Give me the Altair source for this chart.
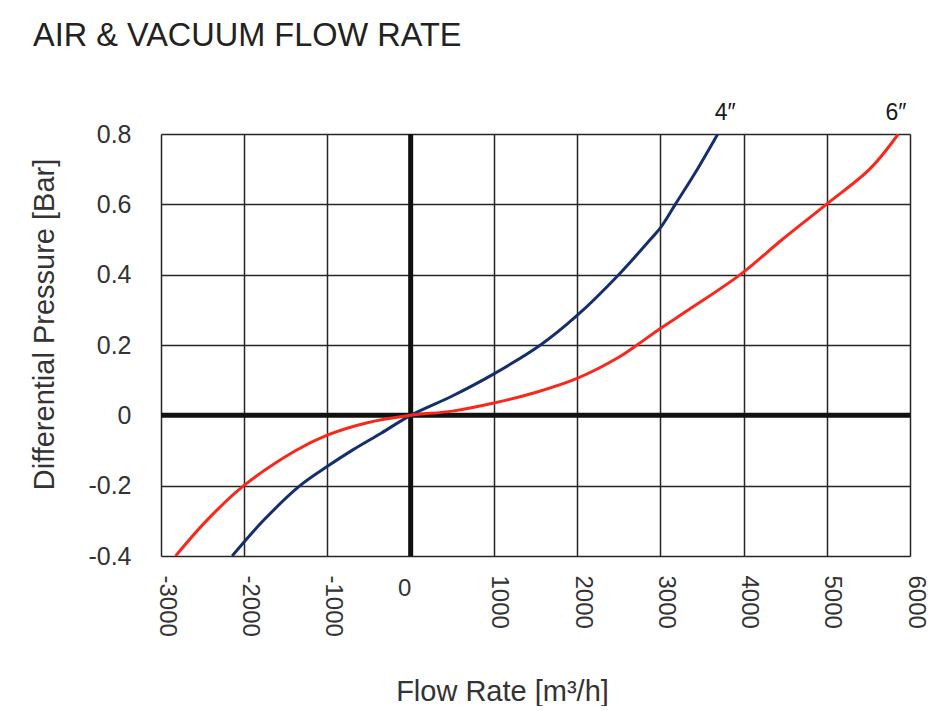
import altair as alt
import pandas as pd

# ---- data ----
blue_flow = [-2145, -1773, -1330, -1000, -700, -350, 0, 500, 1000, 1560, 2000, 2500, 2880, 3000, 3180, 3445, 3690]
blue_dp = [-0.4, -0.3, -0.2, -0.145, -0.099, -0.05, 0, 0.055, 0.118, 0.2, 0.284, 0.4, 0.5, 0.533, 0.6, 0.7, 0.8]

red_flow = [-2825, -2455, -2005, -1380, -1010, -520, 0, 500, 1000, 1500, 2000, 2500, 2720, 3000, 3340, 3960, 4465, 4995, 5515, 5860]
red_dp = [-0.4, -0.3, -0.2, -0.1, -0.057, -0.021, 0, 0.012, 0.035, 0.065, 0.105, 0.165, 0.2, 0.247, 0.3, 0.4, 0.5, 0.6, 0.7, 0.8]

series_names = ["4\u2033", "6\u2033"]
series_colors = ["#142f6b", "#f8281c"]

label_flow = [3780, 5830]
label_dp = [0.8, 0.8]

x_ticks = [-3000, -2000, -1000, 0, 1000, 2000, 3000, 4000, 5000, 6000]
y_ticks = [-0.4, -0.3, -0.2, -0.1, 0.0, 0.1, 0.2, 0.3, 0.4, 0.5, 0.6, 0.7, 0.8]
upright_tick = [0]

FONT = "Liberation Sans"

df = pd.concat([
    pd.DataFrame({"flow": blue_flow, "dp": blue_dp, "size": series_names[0], "order": range(len(blue_flow))}),
    pd.DataFrame({"flow": red_flow, "dp": red_dp, "size": series_names[1], "order": range(len(red_flow))}),
])
labels = pd.DataFrame({"flow": label_flow, "dp": label_dp, "size": series_names})
zero = pd.DataFrame({"v": [0]})
zero_label = pd.DataFrame({"flow": upright_tick, "dp": [-0.4], "txt": [str(v) for v in upright_tick]})

xscale = alt.Scale(domain=[-3000, 6000], nice=False, zero=False)
yscale = alt.Scale(domain=[-0.4, 0.8], nice=False, zero=False)

xaxis = alt.Axis(
    values=x_ticks, grid=True, gridColor="#262626", gridWidth=1.5, gridOpacity=1,
    domain=False, ticks=False, labelAngle=90, labelPadding=19, labelOffset=5,
    labelFont=FONT, labelFontSize=24, labelColor="#333333",
    labelExpr="datum.value == 0 ? '' : '' + datum.value",
    title="Flow Rate [m\u00b3/h]", titleFont=FONT, titleFontSize=29, titleFontWeight="normal",
    titleColor="#333333", titleX=341, titleY=144, titleBaseline="alphabetic", titleAnchor="middle",
)
yaxis = alt.Axis(
    values=y_ticks, grid=True, gridColor="#262626", gridWidth=1.5, gridOpacity=1,
    domain=False, ticks=False, labelPadding=30,
    labelFont=FONT, labelFontSize=25, labelColor="#333333",
    labelExpr="round(datum.value * 10) % 2 == 0 ? '' + datum.value : ''",
    title="Differential Pressure [Bar]", titleFont=FONT, titleFontSize=29, titleFontWeight="normal",
    titleColor="#333333", titleX=-117, titleY=190, titleAngle=-90, titleBaseline="middle", titleAnchor="middle",
)

base = alt.Chart(df)

lines = base.mark_line(strokeWidth=3, interpolate="catmull-rom", clip=True).encode(
    x=alt.X("flow:Q", scale=xscale, axis=xaxis),
    y=alt.Y("dp:Q", scale=yscale, axis=yaxis),
    color=alt.Color("size:N", scale=alt.Scale(domain=series_names, range=series_colors), legend=None),
    order="order:Q",
)

vzero = alt.Chart(zero).mark_rule(color="#111111", strokeWidth=5).encode(x=alt.X("v:Q", scale=xscale))
hzero = alt.Chart(zero).mark_rule(color="#111111", strokeWidth=5).encode(y=alt.Y("v:Q", scale=yscale))

text = alt.Chart(labels).mark_text(
    font=FONT, fontSize=23, color="#1a1a1a", align="center", baseline="alphabetic", dy=-14
).encode(
    x=alt.X("flow:Q", scale=xscale),
    y=alt.Y("dp:Q", scale=yscale),
    text="size:N",
)

zero_text = alt.Chart(zero_label).mark_text(
    font=FONT, fontSize=24, color="#333333", align="center", baseline="top", dx=-6, dy=21
).encode(
    x=alt.X("flow:Q", scale=xscale),
    y=alt.Y("dp:Q", scale=yscale),
    text="txt:N",
)

chart = alt.layer(vzero, hzero, lines, text, zero_text).properties(
    width=749,
    height=422,
    autosize=alt.AutoSizeParams(type="none"),
    padding={"left": 153, "top": 126, "right": 20, "bottom": 150},
    title=alt.TitleParams(
        text="AIR & VACUUM FLOW RATE", anchor="start", font=FONT, fontSize=32.5,
        fontWeight="normal", color="#222222", dx=-128, dy=-46, frame="group",
    ),
).configure_view(stroke="#262626", strokeWidth=1.5).configure(background="white")

chart.save("out.html", embed_options={"renderer": "svg", "actions": False})
